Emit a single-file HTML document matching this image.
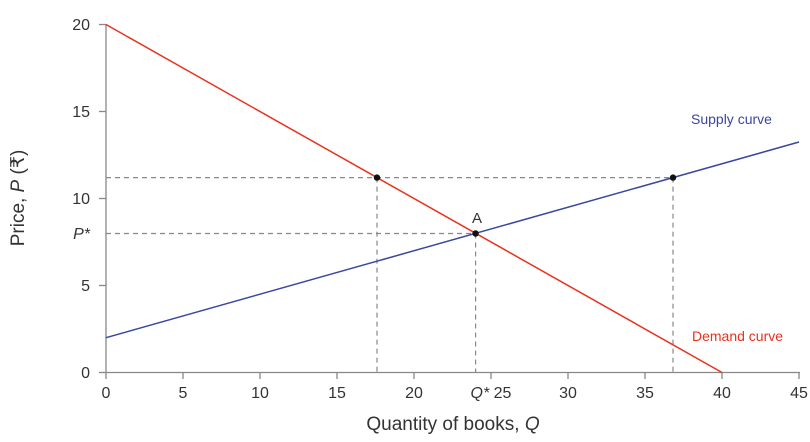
<!DOCTYPE html><html><head><style>body{margin:0;background:#fff}svg{display:block}text{font-family:"Liberation Sans","DejaVu Sans",sans-serif;fill:#333}</style></head><body>
<svg width="810" height="442" viewBox="0 0 810 442">
<g stroke="#888" stroke-width="1.3">
<line x1="106" y1="24" x2="106" y2="372.5"/>
<line x1="106" y1="372.5" x2="800" y2="372.5"/>
<line x1="99" y1="24.5" x2="106" y2="24.5"/><line x1="99" y1="111.5" x2="106" y2="111.5"/><line x1="99" y1="198.5" x2="106" y2="198.5"/><line x1="99" y1="285.5" x2="106" y2="285.5"/><line x1="99" y1="372.5" x2="106" y2="372.5"/>
<line x1="106" y1="372.5" x2="106" y2="379"/><line x1="183" y1="372.5" x2="183" y2="379"/><line x1="260" y1="372.5" x2="260" y2="379"/><line x1="337" y1="372.5" x2="337" y2="379"/><line x1="414" y1="372.5" x2="414" y2="379"/><line x1="491" y1="372.5" x2="491" y2="379"/><line x1="568" y1="372.5" x2="568" y2="379"/><line x1="645" y1="372.5" x2="645" y2="379"/><line x1="722" y1="372.5" x2="722" y2="379"/><line x1="799" y1="372.5" x2="799" y2="379"/>
</g>
<g stroke="#888" stroke-width="1.2" stroke-dasharray="5,4" fill="none">
<line x1="106" y1="233.5" x2="475.6" y2="233.5"/><line x1="475.6" y1="233.5" x2="475.6" y2="372"/>
<line x1="106" y1="177.6" x2="673" y2="177.6"/><line x1="377" y1="177.6" x2="377" y2="372"/><line x1="673" y1="177.6" x2="673" y2="372"/>
</g>
<line x1="106" y1="24.5" x2="722" y2="372.5" stroke="#e8321e" stroke-width="1.5"/>
<line x1="106" y1="337.7" x2="799" y2="142" stroke="#3b46a0" stroke-width="1.5"/>
<g fill="#111"><circle cx="475.6" cy="233.5" r="3.2"/><circle cx="377" cy="177.6" r="3.2"/><circle cx="673" cy="177.6" r="3.2"/></g>
<g font-size="16" text-anchor="end">
<text x="90" y="30">20</text><text x="90" y="117">15</text><text x="90" y="204">10</text><text x="90" y="291">5</text><text x="90" y="378">0</text>
<text x="90" y="239" font-style="italic">P*</text>
</g>
<g font-size="16" text-anchor="middle">
<text x="106" y="398">0</text><text x="183" y="398">5</text><text x="260" y="398">10</text><text x="337" y="398">15</text><text x="414" y="398">20</text><text x="491" y="398"><tspan font-style="italic">Q*</tspan> 25</text><text x="568" y="398">30</text><text x="645" y="398">35</text><text x="722" y="398">40</text><text x="799" y="398">45</text>
<text x="477" y="223" font-size="15">A</text>
<text x="453" y="430" font-size="19">Quantity of books, <tspan font-style="italic">Q</tspan></text>
<text transform="translate(24,198) rotate(-90)" font-size="19">Price, <tspan font-style="italic">P</tspan> (₹)</text>
</g>
<text x="691" y="124" font-size="14" style="fill:#3b46a0">Supply curve</text>
<text x="692" y="341" font-size="14" style="fill:#e8321e">Demand curve</text>
</svg></body></html>
